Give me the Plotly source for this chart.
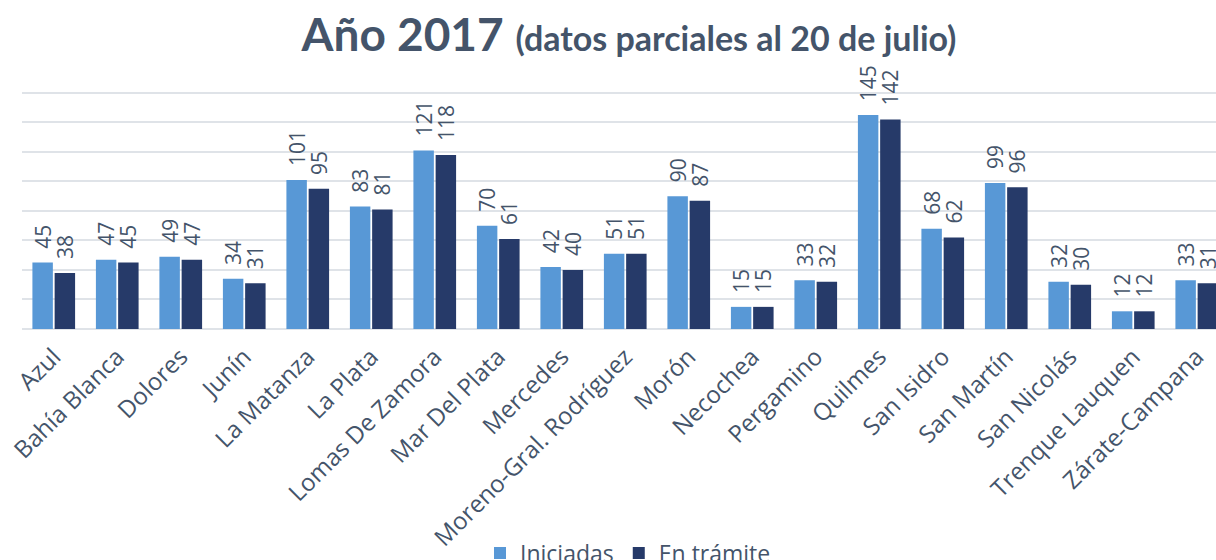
import plotly.graph_objects as go

categories = ["Azul", "Bahía Blanca", "Dolores", "Junín", "La Matanza", "La Plata",
              "Lomas De Zamora", "Mar Del Plata", "Mercedes", "Moreno-Gral. Rodríguez",
              "Morón", "Necochea", "Pergamino", "Quilmes", "San Isidro", "San Martín",
              "San Nicolás", "Trenque Lauquen", "Zárate-Campana"]
iniciadas = [45, 47, 49, 34, 101, 83, 121, 70, 42, 51, 90, 15, 33, 145, 68, 99, 32, 12, 33]
en_tramite = [38, 45, 47, 31, 95, 81, 118, 61, 40, 51, 87, 15, 32, 142, 62, 96, 30, 12, 31]

TXT = "#44546a"
LBL = dict(family="Open Sans", size=21, color=TXT)

fig = go.Figure()
fig.add_trace(go.Bar(
    name="Iniciadas", x=categories, y=iniciadas,
    marker=dict(color="#5898d6", line=dict(width=0)),
    text=iniciadas, texttemplate="  %{y}", textposition="outside", textangle=-90,
    constraintext="none", cliponaxis=False, textfont=LBL,
))
fig.add_trace(go.Bar(
    name="En trámite", x=categories, y=en_tramite,
    marker=dict(color="#263a69", line=dict(width=0)),
    text=en_tramite, texttemplate="  %{y}", textposition="outside", textangle=-90,
    constraintext="none", cliponaxis=False, textfont=LBL,
))

fig.update_layout(
    width=1216, height=560,
    paper_bgcolor="white", plot_bgcolor="white",
    margin=dict(l=22, r=0, t=90, b=231, autoexpand=False),
    barmode="group", bargap=0.3, bargroupgap=0.08,
    title=dict(
        text="<b>Año 2017</b> <b><span style='font-size:34px'>(datos parciales al 20 de julio)</span></b>",
        font=dict(family="Lato", size=46, color=TXT),
        x=629 / 1216, xanchor="center", xref="container",
        y=1 - 35 / 560, yanchor="middle", yref="container",
    ),
    showlegend=True,
    legend=dict(
        orientation="h", x=628 / 1216, xanchor="center", xref="container",
        y=-(553 - 329) / 239, yanchor="middle",
        font=dict(family="Open Sans", size=23, color=TXT),
        traceorder="normal", itemclick=False,
    ),
    font=dict(family="Open Sans", color=TXT),
)
fig.update_xaxes(
    range=[-0.5, -0.5 + 1194 / 63.5], tickangle=-45, showgrid=False, showline=False,
    ticks="", tickfont=dict(family="Open Sans", size=24, color=TXT), automargin=False,
    ticklabelstandoff=8,
)
fig.update_yaxes(
    range=[0, 162], tickvals=[20, 40, 60, 80, 100, 120, 140, 160],
    showticklabels=False, showgrid=True,
    gridcolor="#dfe3e8", gridwidth=2, zeroline=True, zerolinecolor="#dfe3e8",
    zerolinewidth=2, automargin=False,
)

fig.write_html(
    "out.html",
    config={"displayModeBar": False},
    post_script="document.body.style.margin='0';document.body.style.overflow='hidden';",
)
